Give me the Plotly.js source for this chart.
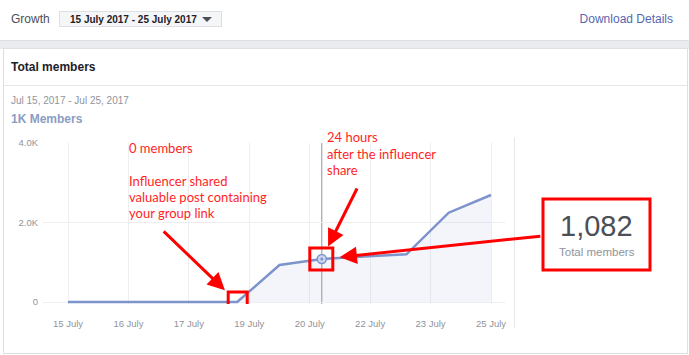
<!DOCTYPE html>
<html>
<head>
<meta charset="utf-8">
<script src="https://cdn.plot.ly/plotly-3.0.1.min.js"></script>
<style>
  html, body { margin:0; padding:0; width:689px; height:355px; overflow:hidden; background:#fff;
    font-family:"Liberation Sans", Arial, sans-serif; }
  .abs { position:absolute; white-space:nowrap; }
  #chart { position:absolute; left:0; top:0; width:689px; height:355px; }
</style>
</head>
<body>
<!-- page chrome -->
<div class="abs" style="left:11px;top:10px;height:18px;line-height:18px;font-size:12px;color:#4b4f56;">Growth</div>
<div class="abs" style="left:59px;top:11px;width:163px;height:16px;background:#f5f6f7;border:1px solid #dddfe2;box-sizing:border-box;"></div>
<div class="abs" style="left:70px;top:11px;height:17px;line-height:17px;font-size:10px;font-weight:bold;color:#1d2129;">15 July 2017 - 25 July 2017</div>
<div class="abs" style="left:202px;top:17px;width:0;height:0;border-left:5px solid transparent;border-right:5px solid transparent;border-top:5px solid #4b4f56;"></div>
<div class="abs" style="right:16px;top:10px;height:18px;line-height:18px;font-size:12px;color:#5866b2;">Download Details</div>
<div class="abs" style="left:0;top:40px;width:689px;height:9px;background:#e9ebee;border-top:1px solid #dddfe2;box-sizing:border-box;"></div>
<div class="abs" style="left:3px;top:48px;width:685px;height:306px;border:1px solid #dddfe2;box-sizing:border-box;background:#fff;"></div>
<div class="abs" style="left:11px;top:58px;height:18px;line-height:18px;font-size:12px;font-weight:bold;color:#1d2129;">Total members</div>
<div class="abs" style="left:4px;top:85px;width:683px;height:1px;background:#e5e6e9;"></div>
<div class="abs" style="left:11px;top:93px;height:16px;line-height:16px;font-size:10px;color:#90949c;">Jul 15, 2017 - Jul 25, 2017</div>
<div class="abs" style="left:11px;top:111px;height:16px;line-height:16px;font-size:12px;font-weight:bold;color:#8b9dc3;">1K Members</div>
<div class="abs" style="left:514px;top:137px;width:1px;height:191px;background:#e5e6e9;"></div>

<div id="chart"></div>
<script>
// ---- data ----
const days = [15, 16, 17, 18, 19, 20, 21, 22, 23, 24, 25];          // July 2017
const members = [0, 0, 0, 0, 0, 930, 1082, 1145, 1200, 2247, 2692];
const xTickLabels = ['15 July', '16 July', '17 July', '19 July', '20 July', '22 July', '23 July', '25 July'];
const yTickVals = [0, 2000, 4000];
const yTickText = ['0', '2.0K', '4.0K'];
const shareDay = 19;        // influencer shared
const highlightDay = 21;    // 24 hours later
const noteZero = ['0 members'];
const noteShare = ['Influencer shared', 'valuable post containing', 'your group link'];
const note24h = ['24 hours', 'after the influencer', 'share'];
const totalLabel = 'Total members';

// ---- layout helpers (plot area in page pixels) ----
const L = 43, T = 143, W = 462, H = 161;
const px = x => (x - L) / W;
const py = y => (T + H - y) / H;

const hiVal = members[days.indexOf(highlightDay)];
const shareVal = members[days.indexOf(shareDay)];
const tickStep = (days[days.length - 1] - days[0]) / (xTickLabels.length - 1);
const xTickVals = xTickLabels.map((_, i) => days[0] + i * tickStep);

const lineColor = '#7d93cc';
const red = '#ff0000';
const redText = '#ff1f1f';
const textFont = { family: 'Lato, "Open Sans", sans-serif', size: 13, color: redText };

const traces = [
  { x: days, y: members, type: 'scatter', mode: 'lines',
    line: { color: lineColor, width: 2.5 }, fill: 'tozeroy', fillcolor: 'rgba(125,147,204,0.095)', hoverinfo: 'skip' },
  { x: [highlightDay], y: [hiVal], type: 'scatter', mode: 'markers',
    marker: { size: 9, color: '#cdd6ee', line: { color: lineColor, width: 1.5 } }, hoverinfo: 'skip' },
  { x: [highlightDay], y: [hiVal], type: 'scatter', mode: 'markers',
    marker: { size: 3, color: lineColor }, hoverinfo: 'skip' }
];

const annotations = [];
function textLines(lines, x, y0, step) {
  lines.forEach((t, i) => annotations.push({
    text: t, xref: 'paper', yref: 'paper', x: px(x), y: py(y0 + i * step),
    xanchor: 'left', yanchor: 'middle', showarrow: false, font: textFont
  }));
}
textLines(noteZero, 127, 148, 16);
textLines(noteShare, 127, 181, 16);
textLines(note24h, 325, 137, 16.5);

const arrowBase = { text: '', showarrow: true, arrowhead: 2, arrowsize: 1.15, arrowwidth: 3, arrowcolor: red,
  xref: 'x', yref: 'y' };
annotations.push(Object.assign({}, arrowBase, { x: shareDay, y: shareVal, ax: -75, ay: -72, standoff: 17 }));
annotations.push(Object.assign({}, arrowBase, { x: highlightDay, y: hiVal, ax: 36, ay: -72, standoff: 14 }));
annotations.push(Object.assign({}, arrowBase, { x: highlightDay, y: hiVal, ax: 220, ay: -23, standoff: 18 }));

annotations.push({ text: hiVal.toLocaleString('en-US'), xref: 'paper', yref: 'paper', x: px(596.5), y: py(225.5),
  xanchor: 'center', yanchor: 'middle', showarrow: false,
  font: { family: '"Liberation Sans", Arial, sans-serif', size: 29, color: '#4b4f56' } });
annotations.push({ text: totalLabel, xref: 'paper', yref: 'paper', x: px(596.5), y: py(252),
  xanchor: 'center', yanchor: 'middle', showarrow: false,
  font: { family: '"Liberation Sans", Arial, sans-serif', size: 11.5, color: '#90949c' } });

const shapes = [
  { type: 'line', xref: 'x', yref: 'paper', x0: highlightDay, x1: highlightDay, y0: 0, y1: 1,
    line: { color: '#8d949e', width: 1 }, layer: 'below' },
  { type: 'rect', xref: 'x', yref: 'y', xsizemode: 'pixel', ysizemode: 'pixel',
    xanchor: shareDay, yanchor: shareVal, x0: -9, x1: 10, y0: -7, y1: 10,
    line: { color: red, width: 3 } },
  { type: 'rect', xref: 'x', yref: 'y', xsizemode: 'pixel', ysizemode: 'pixel',
    xanchor: highlightDay, yanchor: hiVal, x0: -12, x1: 11, y0: -11, y1: 11,
    line: { color: red, width: 3 } },
  { type: 'rect', xref: 'paper', yref: 'paper', x0: px(543), x1: px(650), y0: py(270), y1: py(199),
    line: { color: red, width: 3 }, fillcolor: 'rgba(0,0,0,0)' }
];

const layout = {
  width: 689, height: 355,
  margin: { l: L, r: 689 - L - W, t: T, b: 355 - T - H, pad: 0 },
  paper_bgcolor: 'rgba(0,0,0,0)', plot_bgcolor: 'rgba(0,0,0,0)',
  showlegend: false,
  font: { family: '"Liberation Sans", Arial, sans-serif', color: '#90949c', size: 9.5 },
  xaxis: {
    range: [days[0] - 0.591, days[days.length - 1] + 0.331],
    tickvals: xTickVals, ticktext: xTickLabels,
    showgrid: true, gridcolor: '#eceef1', gridwidth: 1,
    zeroline: false, showline: false, ticks: '', ticklabelstandoff: 12,
    tickfont: { size: 9.5, color: '#90949c' }, fixedrange: true
  },
  yaxis: {
    range: [-50, 4000],
    tickvals: yTickVals, ticktext: yTickText,
    showgrid: true, gridcolor: '#eceef1', gridwidth: 1,
    zeroline: false, showline: false, ticks: '', ticklabelstandoff: 4,
    tickfont: { size: 9.5, color: '#90949c' }, fixedrange: true
  },
  annotations: annotations,
  shapes: shapes
};

Plotly.newPlot('chart', traces, layout, { staticPlot: true, displayModeBar: false });
</script>
</body>
</html>
